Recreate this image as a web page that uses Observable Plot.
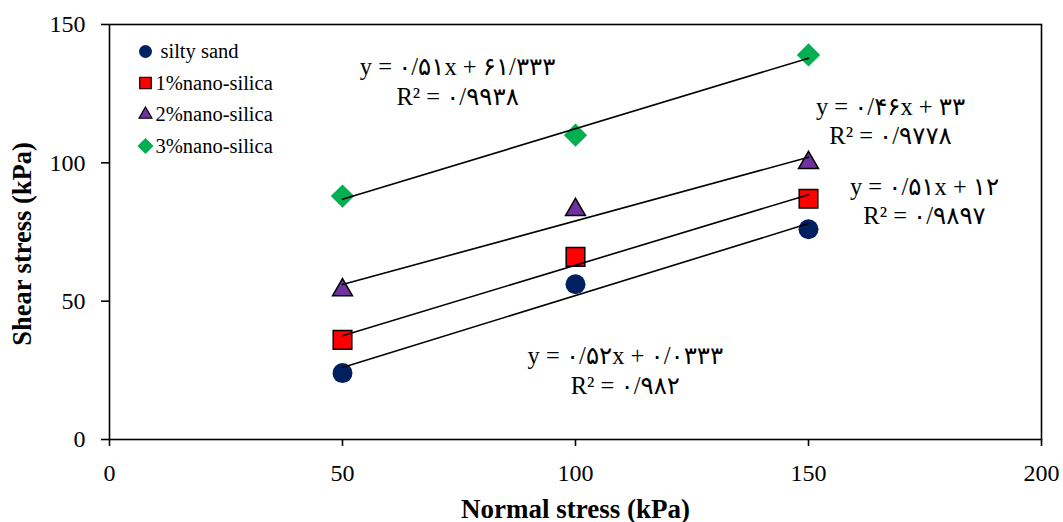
<!DOCTYPE html>
<html><head><meta charset="utf-8">
<script src="https://cdn.jsdelivr.net/npm/d3@7"></script>
<script src="https://cdn.jsdelivr.net/npm/@observablehq/plot@0.6"></script>
<style>body{margin:0;background:#fff;} #chart svg{display:block;}</style>
</head><body><div id="chart"></div>
<script>
const normalStress = [50, 100, 150];
const seriesNames = ["silty sand", "1%nano-silica", "2%nano-silica", "3%nano-silica"];
const siltySand = [24, 56.1, 76];
const nanoSilica1 = [36, 66, 87];
const nanoSilica2 = [54, 83, 100];
const nanoSilica3 = [88, 110, 139];
const seriesColors = ["#002060", "#FF0000", "#7030A0", "#00B050"];
const seriesSymbols = ["circle", "square", "triangle", "diamond2"];
const seriesOutline = ["none", "black", "black", "none"];
const equationLines = [
  "y = ۰/۵۲x + ۰/۰۳۳۳\nR² = ۰/۹۸۲",
  "y = ۰/۵۱x + ۱۲\nR² = ۰/۹۸۹۷",
  "y = ۰/۴۶x + ۳۳\nR² = ۰/۹۷۷۸",
  "y = ۰/۵۱x + ۶۱/۳۳۳\nR² = ۰/۹۹۳۸"
];
const equationX = [110.7, 174.9, 167.6, 74.7];
const equationY = [25.4, 86.6, 115.5, 129.8];
const xTicks = [0, 50, 100, 150, 200];
const yTicks = [0, 50, 100, 150];

const seriesValues = [siltySand, nanoSilica1, nanoSilica2, nanoSilica3];
const rows = seriesNames.flatMap((s, i) => normalStress.map((x, j) => ({series: s, x, y: seriesValues[i][j]})));
const eqRows = equationLines.map((t, i) => ({t, x: equationX[i], y: equationY[i]}));

const pointR = [10, 10.5, 7.4, 10.5];
const legendR = [6.5, 6.5, 4.8, 7.2];
const font = "'Liberation Serif', 'Times New Roman', 'DejaVu Serif', 'DejaVu Sans', serif";

const marks = [
  Plot.frame({stroke: "black", strokeWidth: 1.6}),
  Plot.axisX({ticks: xTicks, tickSize: 7, tickPadding: 17, label: null, fontSize: 24, strokeWidth: 1.6}),
  Plot.axisY({ticks: yTicks, tickSize: 8, tickPadding: 16, label: null, fontSize: 24, strokeWidth: 1.6}),
  ...seriesNames.map((s, i) => Plot.dot(rows.filter(d => d.series === s), {
    x: "x", y: "y", symbol: seriesSymbols[i], fill: seriesColors[i],
    stroke: seriesOutline[i], strokeWidth: 1.5, r: pointR[i]
  })),
  Plot.linearRegressionY(rows, {x: "x", y: "y", z: "series", stroke: "black", strokeWidth: 1.6, ci: 0}),
  Plot.text(eqRows, {x: "x", y: "y", text: "t", fontSize: 24.5, fontFamily: font, lineHeight: 1.22, textAnchor: "middle", lineAnchor: "middle", fill: "black"}),
  ...seriesNames.map((s, i) => Plot.dot([s], {
    frameAnchor: "top-left", dx: 36, dy: 27 + 31.5 * i, symbol: seriesSymbols[i],
    fill: seriesColors[i], stroke: seriesOutline[i], strokeWidth: 1.2, r: legendR[i]
  })),
  ...seriesNames.map((s, i) => Plot.text([s], {
    frameAnchor: "top-left", dx: i === 0 ? 51 : 46, dy: 27 + 31.5 * i, text: d => d,
    textAnchor: "start", lineAnchor: "middle", fontSize: 20.5, fontFamily: font, fill: "black"
  })),
  Plot.text(["Normal stress (kPa)"], {frameAnchor: "bottom", dy: 70, text: d => d, fontSize: 27, fontFamily: font, fontWeight: "bold", textAnchor: "middle", lineAnchor: "middle", fill: "black"}),
  Plot.text(["Shear stress (kPa)"], {frameAnchor: "left", dx: -87, dy: 12, rotate: -90, text: d => d, fontSize: 26.5, fontFamily: font, fontWeight: "bold", textAnchor: "middle", lineAnchor: "middle", fill: "black"})
];

const chart = Plot.plot({
  width: 1063,
  height: 522,
  marginLeft: 109,
  marginRight: 22,
  marginTop: 24,
  marginBottom: 83,
  x: {domain: [0, 200]},
  y: {domain: [0, 150]},
  style: {fontFamily: font, fontSize: "24px", color: "black", background: "white", overflow: "visible"},
  marks
});
document.getElementById("chart").append(chart);
</script>
</body></html>
